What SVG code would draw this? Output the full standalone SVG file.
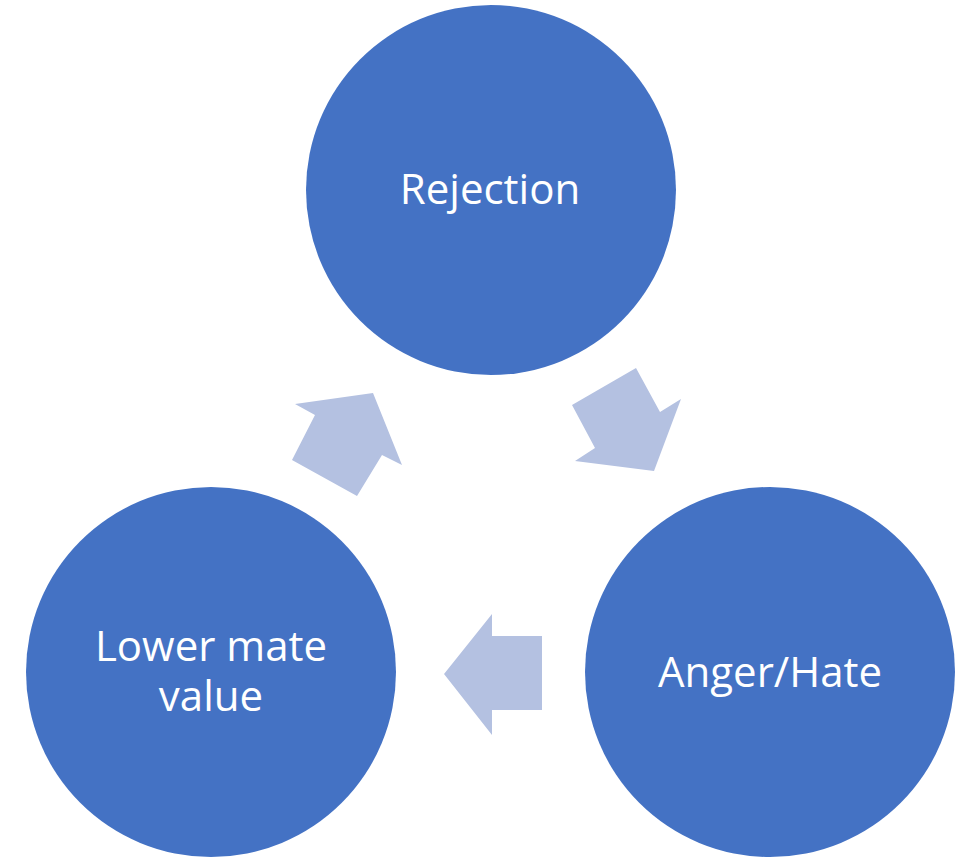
<svg xmlns="http://www.w3.org/2000/svg" width="972" height="858" viewBox="0 0 972 858">
<style>
.node{fill:#4472C4}
.arr{fill:#B4C1E1}
.lbl{fill:#fff;font-family:"Open Sans","Liberation Sans",sans-serif;font-size:42px;text-anchor:middle}
</style>
<rect width="972" height="858" fill="#fff"/>
<g id="connectors">
<polygon class="arr" points="373,393 295,404 315,415 292,460 357,496 382,455 402,465"/>
<polygon class="arr" points="636,368 572,405 595,448 575,461 654,471 681,399 660,412"/>
<polygon class="arr" points="444,674 492,614 492,636 542,636 542,710 492,710 492,735"/>
</g>
<g id="rejection">
<circle class="node" cx="491" cy="190" r="185"/>
<text class="lbl" x="490" y="204">Rejection</text>
</g>
<g id="anger">
<circle class="node" cx="770" cy="672" r="185"/>
<text class="lbl" x="770" y="687">Anger/Hate</text>
</g>
<g id="lower">
<circle class="node" cx="211" cy="672" r="185"/>
<text class="lbl" x="211" y="661">Lower mate<tspan x="211" dy="50">value</tspan></text>
</g>
</svg>
